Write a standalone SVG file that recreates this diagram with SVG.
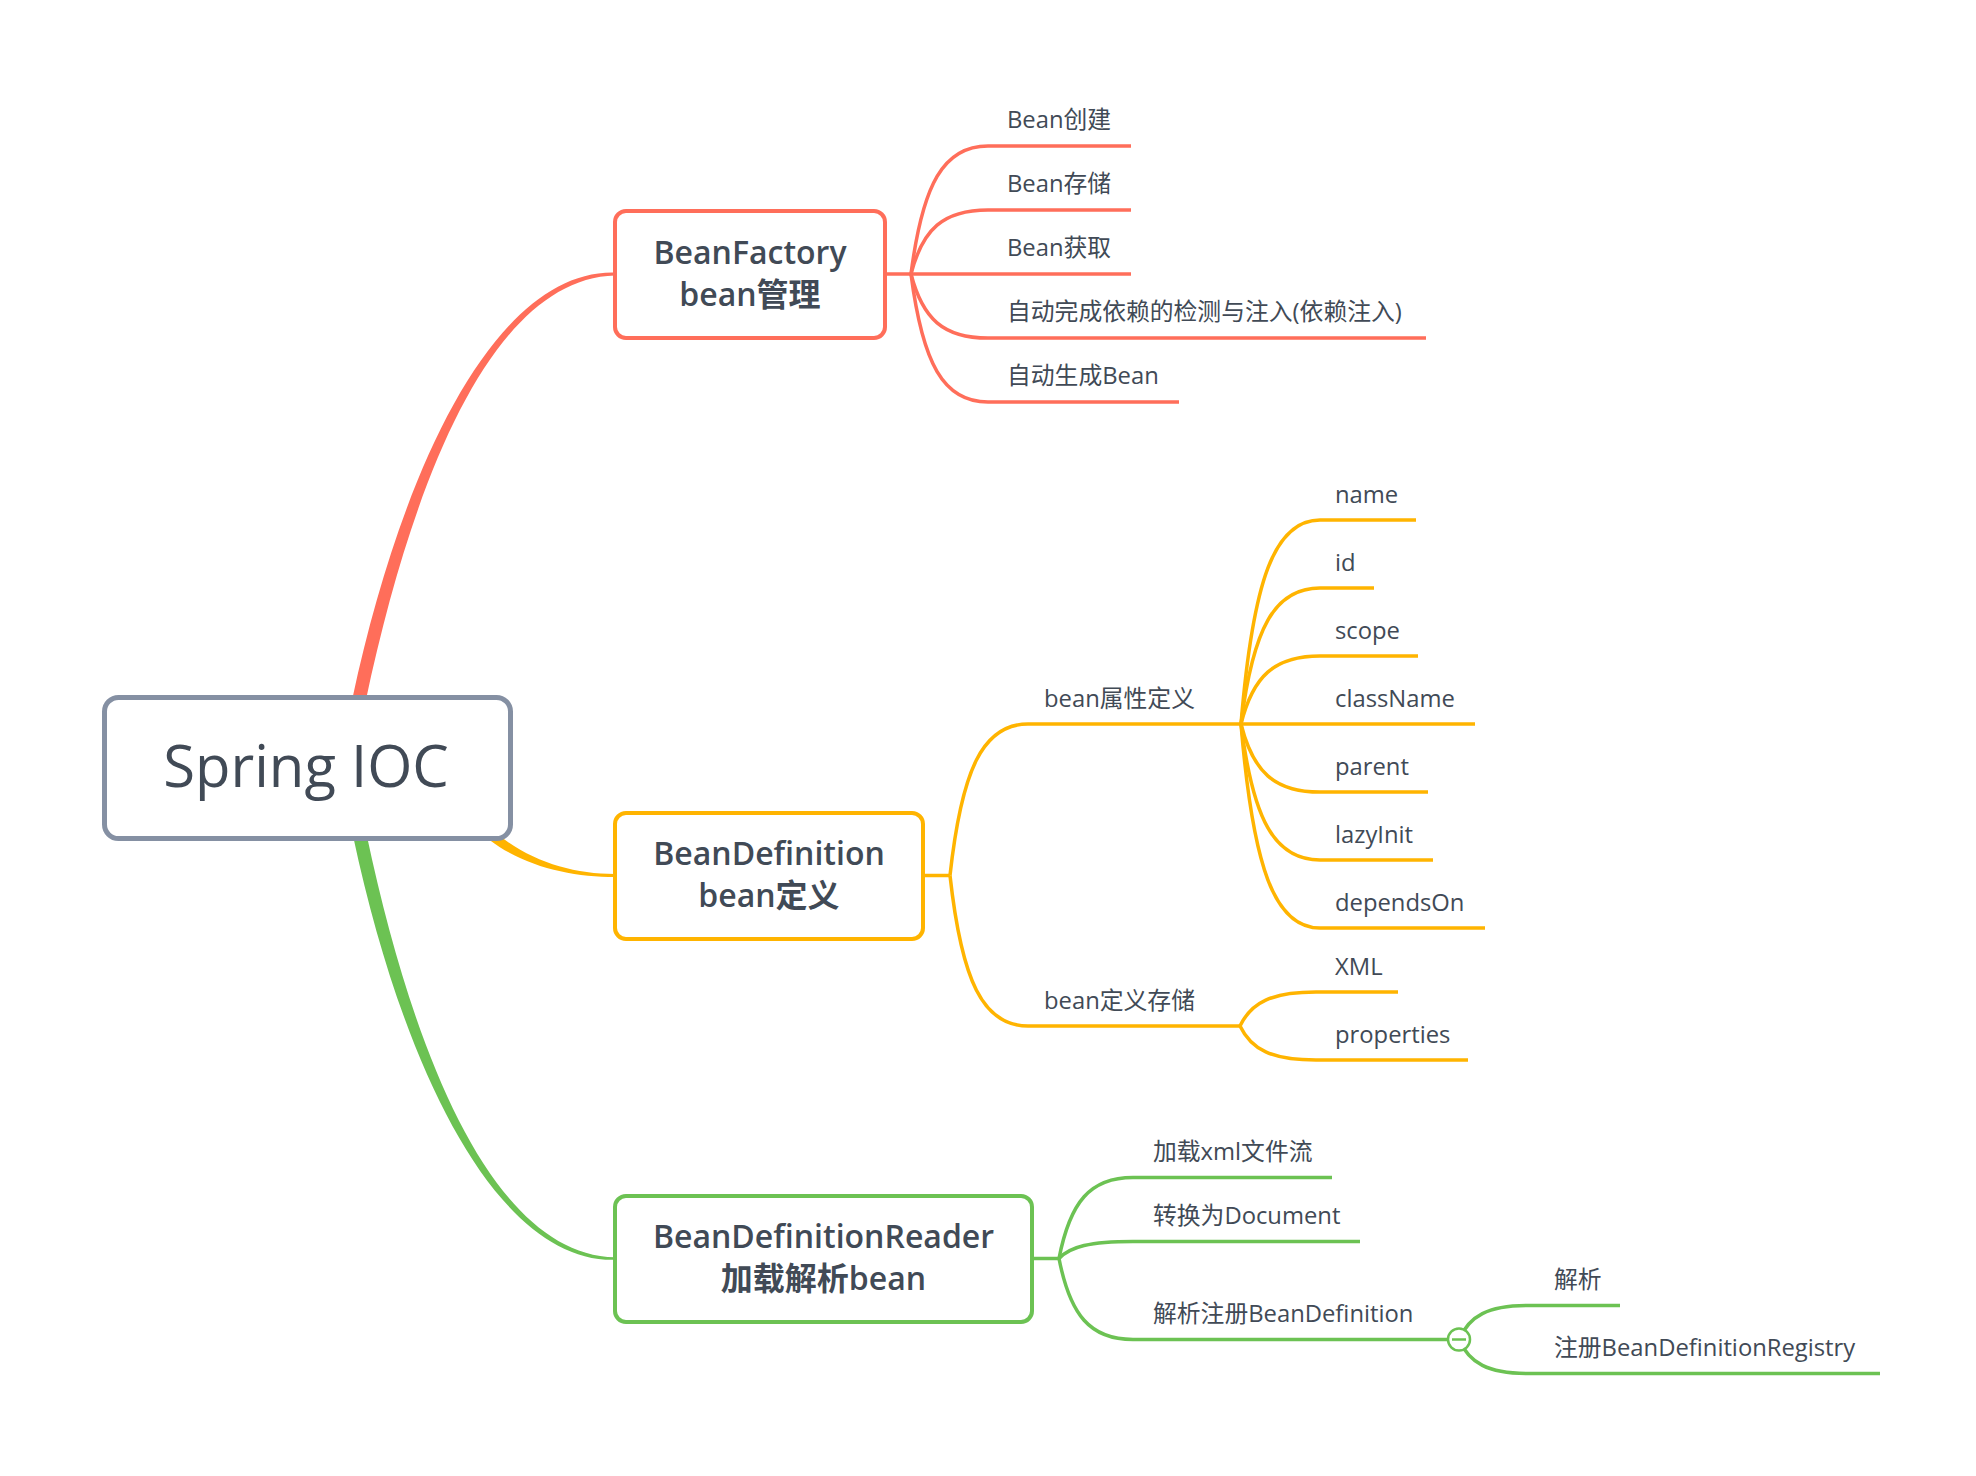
<svg xmlns="http://www.w3.org/2000/svg" width="1976" height="1476" viewBox="0 0 1976 1476">
<style>
text{font-family:"Open Sans","Noto Sans CJK SC",sans-serif;fill:#414a56}
.leaf{font-size:23.8px}
.main{font-size:32px;font-weight:600;text-anchor:middle}
.root{font-size:58px;font-weight:500;text-anchor:middle}
.l{fill:none;stroke-width:3.5;stroke-linecap:butt}
.r{stroke:#ff6e5a}.o{stroke:#ffb400}.g{stroke:#6cc253}
.box{fill:#fff;stroke-width:4}
</style>
<rect width="1976" height="1476" fill="#fff"/>
<g id="connectors">
<path d="M 365.6 701.4 C 414.4 471.4 495 278.5 615 275.5 L 615 272.5 C 495 269.5 401.6 468.6 352.4 698.6 Z" fill="#ff6e5a"/>
<path d="M 471.3 823.4 C 508.3 863.4 565 877 615 877 L 615 874 C 565 874 515.7 856.6 478.7 816.6 Z" fill="#ffb400"/>
<path d="M 353.4 837.4 C 402.6 1067.4 496 1262.5 615 1259.8 L 615 1257.3 C 496 1254.5 415.4 1064.6 366.6 834.6 Z" fill="#6cc253"/>
<g class="l r">
<path d="M 886 274 H 1131"/>
<path d="M 911 274 C 922.6 184.4 943.3 146 988 146 H 1131"/>
<path d="M 911 274 C 922.6 229.2 943.3 210 988 210 H 1131"/>
<path d="M 911 274 C 922.6 318.8 943.3 338 988 338 H 1426"/>
<path d="M 911 274 C 922.6 363.6 943.3 402 988 402 H 1179"/>
</g>
<g class="l o">
<path d="M 924 875.5 H 950"/>
<path d="M 950 875.5 C 961.7 769.5 982.8 724 1028 724 H 1475"/>
<path d="M 950 875.5 C 961.7 980.9 982.8 1026 1028 1026 H 1240"/>
<path d="M 1241 724 C 1252.9 581.2 1274.2 520 1320 520 H 1416"/>
<path d="M 1241 724 C 1252.9 628.8 1274.2 588 1320 588 H 1374"/>
<path d="M 1241 724 C 1252.9 676.4 1274.2 656 1320 656 H 1418"/>
<path d="M 1241 724 C 1252.9 771.6 1274.2 792 1320 792 H 1428"/>
<path d="M 1241 724 C 1252.9 819.2 1274.2 860 1320 860 H 1433"/>
<path d="M 1241 724 C 1252.9 866.8 1274.2 928 1320 928 H 1485"/>
<path d="M 1240 1026 C 1251.4 1002.2 1271.9 992 1316 992 H 1398"/>
<path d="M 1240 1026 C 1251.4 1049.8 1271.9 1060 1316 1060 H 1468"/>
</g>
<g class="l g">
<path d="M 1033 1258.5 H 1059"/>
<path d="M 1059 1258.5 C 1070.1 1201.8 1090.1 1177.5 1133 1177.5 H 1332"/>
<path d="M 1059 1258.5 C 1070.1 1246.6 1090.1 1241.5 1133 1241.5 H 1360"/>
<path d="M 1059 1258.5 C 1070.1 1315.2 1090.1 1339.5 1133 1339.5 H 1450"/>
<path d="M 1459 1339.5 C 1469.4 1315.7 1488 1305.5 1528 1305.5 H 1620"/>
<path d="M 1459 1339.5 C 1469.4 1363.3 1488 1373.5 1528 1373.5 H 1880"/>
</g>
<g id="collapse">
<circle cx="1459" cy="1339.5" r="11" fill="#fff" stroke="#6cc253" stroke-width="2.5"/>
<path d="M 1452 1339.5 H 1466" stroke="#6cc253" stroke-width="2.5"/>
</g>
</g>
<g id="root">
<rect x="104.5" y="697.5" width="406" height="141" rx="14" fill="#fff" stroke="#8590a3" stroke-width="5"/>
<text class="root" x="306" y="787">Spring IOC</text>
</g>
<g id="beanfactory">
<rect class="box" x="615" y="211" width="270" height="127" rx="11" stroke="#ff6e5a"/>
<text class="main" x="750" y="264">BeanFactory</text>
<text class="main" x="750" y="306">bean管理</text>
</g>
<g id="beandefinition">
<rect class="box" x="615" y="813" width="308" height="126" rx="11" stroke="#ffb400"/>
<text class="main" x="769" y="864.5">BeanDefinition</text>
<text class="main" x="769" y="906.5">bean定义</text>
</g>
<g id="beandefinitionreader">
<rect class="box" x="615" y="1196" width="417" height="126" rx="11" stroke="#6cc253"/>
<text class="main" x="823.5" y="1247.5">BeanDefinitionReader</text>
<text class="main" x="823.5" y="1289.5">加载解析bean</text>
</g>
<g id="bf-children">
<text class="leaf" x="1007" y="128">Bean创建</text>
<text class="leaf" x="1007" y="192">Bean存储</text>
<text class="leaf" x="1007" y="256">Bean获取</text>
<text class="leaf" x="1007" y="320">自动完成依赖的检测与注入(依赖注入)</text>
<text class="leaf" x="1007" y="384">自动生成Bean</text>
</g>
<g id="bd-children">
<text class="leaf" x="1044" y="706.5">bean属性定义</text>
<text class="leaf" x="1044" y="1008.5">bean定义存储</text>
<text class="leaf" x="1335" y="502.5">name</text>
<text class="leaf" x="1335" y="570.5">id</text>
<text class="leaf" x="1335" y="638.5">scope</text>
<text class="leaf" x="1335" y="706.5">className</text>
<text class="leaf" x="1335" y="774.5">parent</text>
<text class="leaf" x="1335" y="842.5">lazyInit</text>
<text class="leaf" x="1335" y="910.5">dependsOn</text>
<text class="leaf" x="1335" y="974.5">XML</text>
<text class="leaf" x="1335" y="1042.5">properties</text>
</g>
<g id="reader-children">
<text class="leaf" x="1153" y="1160">加载xml文件流</text>
<text class="leaf" x="1153" y="1224">转换为Document</text>
<text class="leaf" x="1153" y="1322">解析注册BeanDefinition</text>
<text class="leaf" x="1554" y="1288">解析</text>
<text class="leaf" x="1554" y="1356">注册BeanDefinitionRegistry</text>
</g>
</svg>
